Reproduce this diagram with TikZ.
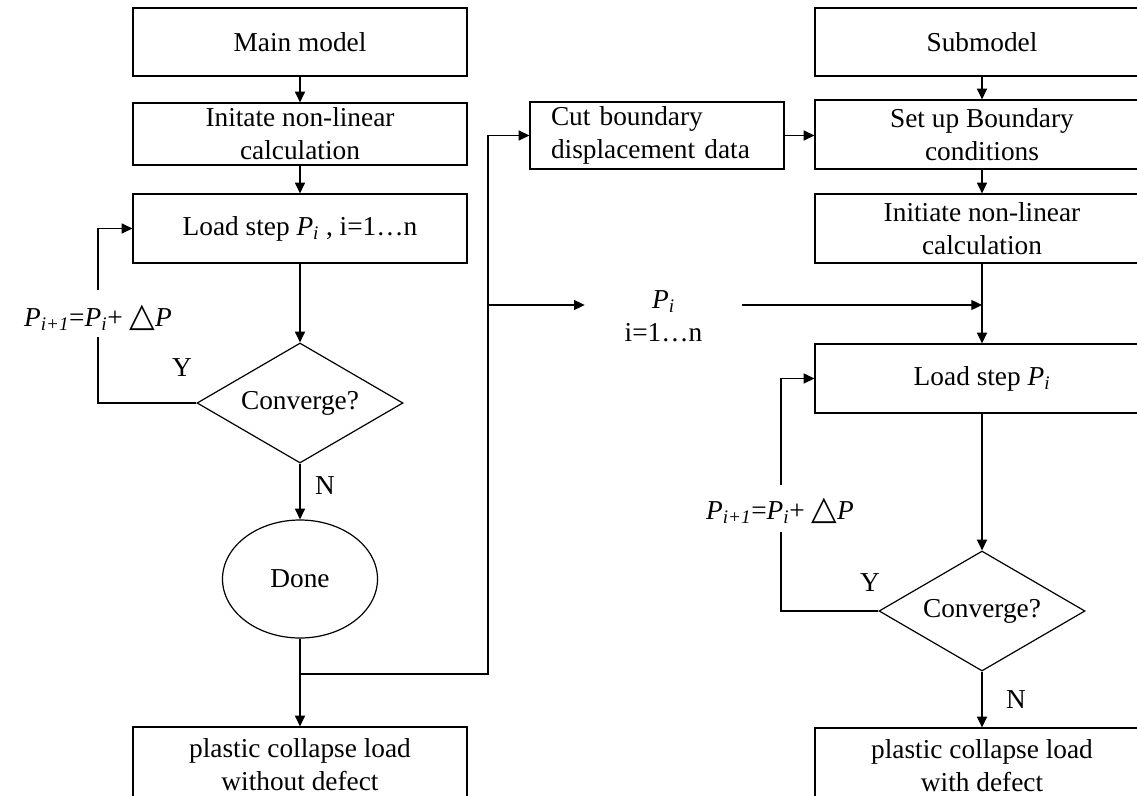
\documentclass[tikz,border=0pt]{standalone}
\usepackage{fontspec}
\setmainfont{Liberation Serif}
\newfontfamily\dejavu{DejaVu Sans}
\usetikzlibrary{shapes.geometric,arrows.meta}
\newcommand\PX{0.75pt}
\newcommand\Pv{\textit{P}}
\newcommand\tri{{\dejavu\fontsize{25}{25}\selectfont △}}
\begin{document}
\begin{tikzpicture}[x=0.75pt,y=-0.75pt,
  every node/.style={font=\fontsize{20.5}{24.75}\selectfont},
  box/.style={draw, line width=0.9pt, inner sep=0pt, align=center, minimum width=334*\PX, minimum height=68*\PX},
  dia/.style={draw, diamond, shape aspect=1.72, line width=0.9pt, inner sep=0pt, minimum width=206*\PX, minimum height=120*\PX},
  oval/.style={draw, ellipse, line width=0.9pt, inner sep=0pt, minimum width=155*\PX, minimum height=118*\PX},
  arr/.style={line width=0.9pt, -{Triangle[length=8pt,width=7.5pt]}},
  lbl/.style={inner sep=0pt}]
\useasboundingbox (0,0) rectangle (1137,795);
\clip (0,0) rectangle (1137,795);
% left column
\node[box] (mm) at (300,42) {Main model};
\node[box, minimum height=62*\PX] (init1) at (300,134) {Initate non-linear\\calculation};
\node[box, minimum height=69*\PX] (load1) at (300,228.5) {Load step \Pv\textsubscript{\textit{i}} , i=1…n};
\node[dia] (conv1) at (300,403) {Converge?};
\node[oval] (done) at (300,579) {Done};
\node[box, minimum height=76*\PX] (res1) at (300,765) {plastic collapse load\\without defect};
% middle
\node[box, minimum width=254*\PX, minimum height=67*\PX, text width=212*\PX, align=left] (cut) at (657,135.5) {Cut boundary\\displacement data};
\node[lbl, align=center, minimum width=157*\PX] (pil) at (663.5,316) {\Pv\textsubscript{\textit{i}}\\i=1…n};
% right column
\node[box] (sub) at (982,42) {Submodel};
\node[box, minimum height=69*\PX] (setup) at (982,134.5) {Set up Boundary\\conditions};
\node[box, minimum height=69*\PX] (init2) at (982,228.5) {Initiate non-linear\\calculation};
\node[box, minimum height=69*\PX] (load2) at (982,378.5) {Load step \Pv\textsubscript{\textit{i}}};
\node[dia] (conv2) at (982,611) {Converge?};
\node[box, minimum height=75*\PX] (res2) at (982,765.5) {plastic collapse load\\with defect};
% coordinates
\coordinate (l1) at (98,0);
\coordinate (l2) at (781,0);
\coordinate (vx) at (488,0);
\coordinate (br) at (300,674);
\coordinate (jr) at (982,305);
% left connectors
\draw[arr] (mm.south) -- (init1.north);
\draw[arr] (init1.south) -- (load1.north);
\draw[arr] (load1.south) -- (conv1.north);
\draw[arr] (conv1.west) -- (conv1.west -| l1) |- (load1.west);
\draw[arr] (conv1.south) -- (done.north);
\draw[arr] (done.south) -- (res1.north);
\draw[arr] (br) -- (br -| vx) |- (cut.west);
\draw[arr] (vx |- jr) -- (pil.west |- jr);
\draw[arr] (pil.east |- jr) -- (jr);
% right connectors
\draw[arr] (cut.east) -- (cut.east -| setup.west);
\draw[arr] (sub.south) -- (setup.north);
\draw[arr] (setup.south) -- (init2.north);
\draw[arr] (init2.south) -- (load2.north);
\draw[arr] (load2.south) -- (conv2.north);
\draw[arr] (conv2.west) -- (conv2.west -| l2) |- (load2.west);
\draw[arr] (conv2.south) -- (res2.north);
% labels
\node[lbl, anchor=base, fill=white, text height=36*\PX, text depth=11*\PX] (eq1) at (98,326) {\Pv\textsubscript{\textit{i+1}}=\Pv\textsubscript{\textit{i}}+ \tri\Pv};
\node[lbl, anchor=base, fill=white, text height=34*\PX, text depth=13*\PX] (eq2) at (780,519) {\Pv\textsubscript{\textit{i+1}}=\Pv\textsubscript{\textit{i}}+ \tri\Pv};
\node[lbl] (y1) at (182,368) {Y};
\node[lbl] (n1) at (325,486) {N};
\node[lbl] (y2) at (870,583) {Y};
\node[lbl] (n2) at (1016,700) {N};
\end{tikzpicture}
\end{document}
